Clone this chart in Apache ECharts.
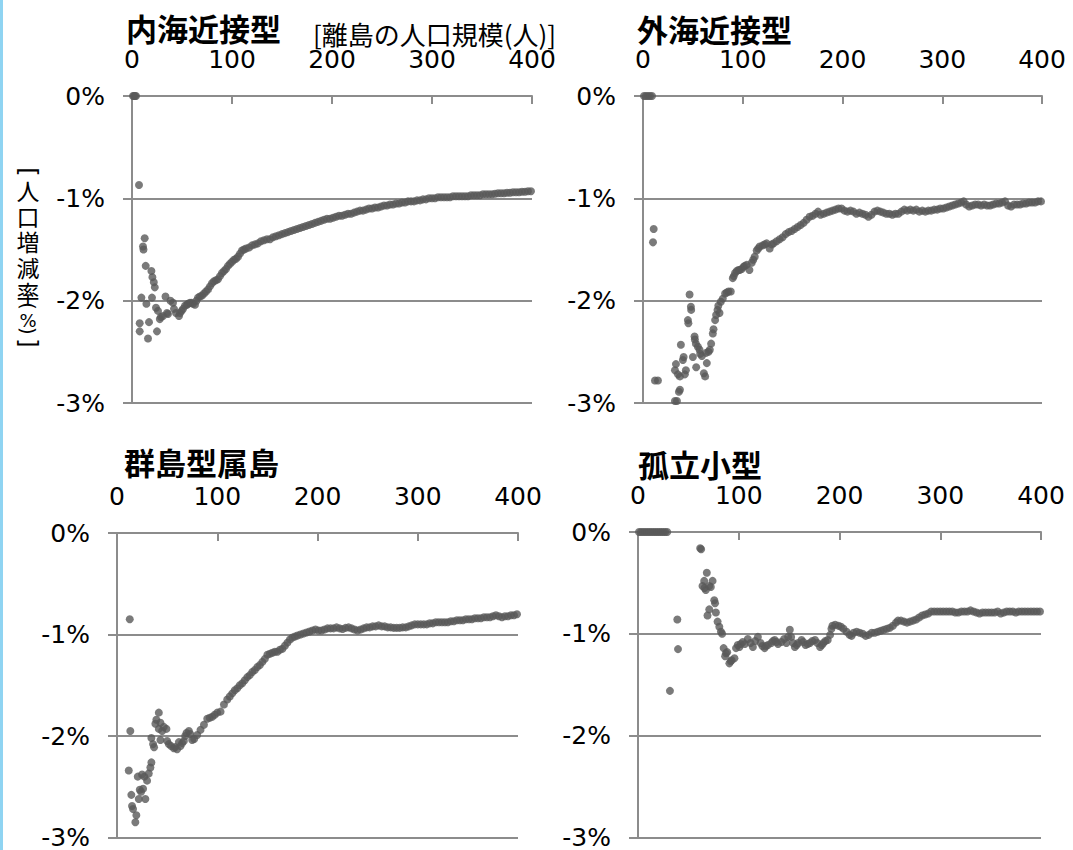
<!DOCTYPE html>
<html><head><meta charset="utf-8">
<script src="https://cdn.jsdelivr.net/npm/echarts@6/dist/echarts.min.js"></script>
<style>html,body{margin:0;padding:0;background:#fff}#c{width:1073px;height:850px}</style>
</head><body><div id="c"></div>
<script>
// Titles and axis text
const panelTitles = ['内海近接型', '外海近接型', '群島型属島', '孤立小型'];
const xAxisName = '[離島の人口規模(人)]';
const yNameChars = ['人', '口', '増', '減', '率'];
const xTicks = [0, 100, 200, 300, 400];
const yTicks = [0, -1, -2, -3];

// 内海近接型 : population (x) and growth rate % (y)
const naikaiX = [1,2,3,4,7,11,11.5,12.7,13.7,19.4,20.4,21.8,22.8,9.4,14.4,20,7.7,7.7,17,16,25,24,26,27.8,29,31,33.5,35,36,38.5,41,42,44,47,48,
49.6,51,53,55,56,58,59.6,61,63,64.5,66,68,70,72,74,76,78,80,82,84,86,88,90,92,94,96,98,100,102,104,106,108,110,112,114,117,120,123,126,129,132,135,138,141,144,147,150,153,156,159,162,165,168,171,174,177,180,183,186,189,192,195,198,201,204,207,210,213,216,219,222,225,228,231,234,237,240,243,246,249,252,255,258,261,264,267,270,273,276,279,282,285,288,291,294,297,300,303,306,309,312,315,318,321,324,327,330,333,336,339,342,345,348,351,354,357,360,363,366,369,372,375,378,381,384,387,390,393,396,399];
const naikaiY = [0,0,0,0,-0.87,-1.47,-1.50,-1.39,-1.66,-1.71,-1.77,-1.82,-1.87,-1.97,-2.03,-1.97,-2.22,-2.30,-2.21,-2.37,-2.30,-2.07,-2.10,-2.18,-2.16,-2.15,-1.96,-2.12,-2.13,-2.00,-2.02,-2.08,-2.12,-2.15,-2.12,
-2.10,-2.08,-2.05,-2.04,-2.03,-2.02,-2.02,-2.03,-2.04,-2.00,-1.97,-1.96,-1.95,-1.93,-1.91,-1.89,-1.86,-1.83,-1.81,-1.80,-1.79,-1.76,-1.73,-1.71,-1.69,-1.66,-1.64,-1.62,-1.60,-1.59,-1.57,-1.54,-1.51,-1.50,-1.49,-1.48,-1.46,-1.45,-1.44,-1.42,-1.41,-1.40,-1.40,-1.38,-1.37,-1.36,-1.35,-1.34,-1.33,-1.32,-1.31,-1.30,-1.29,-1.28,-1.27,-1.26,-1.25,-1.24,-1.23,-1.22,-1.21,-1.20,-1.20,-1.19,-1.18,-1.17,-1.17,-1.16,-1.15,-1.15,-1.14,-1.13,-1.12,-1.12,-1.11,-1.10,-1.10,-1.09,-1.09,-1.08,-1.07,-1.07,-1.06,-1.06,-1.05,-1.05,-1.04,-1.04,-1.03,-1.03,-1.03,-1.02,-1.02,-1.01,-1.01,-1.00,-1.00,-1.00,-0.99,-0.99,-0.99,-0.99,-0.99,-0.98,-0.98,-0.98,-0.98,-0.98,-0.98,-0.97,-0.97,-0.97,-0.97,-0.96,-0.96,-0.96,-0.96,-0.955,-0.95,-0.95,-0.95,-0.945,-0.945,-0.94,-0.94,-0.94,-0.935,-0.935,-0.93,-0.93];

// 外海近接型
const gaikaiX = [1,3,5,7,9,10.7,10,12,15,32,34,36,37,32,33,35,37,38,40,40.7,42,43,45,45.5,46.7,48,48.3,
50,51.7,52,53,53.3,55,56.7,57.3,59,61,62.3,64,63.3,65.7,67,68.3,70,70.7,72.3,73.3,74.7,75.5,76.7,78,80,82.3,84,85.7,88,90,91,92.3,94,95.7,97,99,100.7,102,104,106.7,109,110.5,112,114,115.5,117,120,122,124,127,129,131,134,137,140,143,146,149,152,155,158,161,164,167,170,173,175.5,178,181,184,187,190,193,196,199,202,205,208,211,214,217,220,223,226,229,232,235,238,241,244,247,250,253,256,259,262,265,268,271,274,277,280,283,286,289,292,295,298,301,304,307,310,313,316,319,321.5,324,327,330,333,336,339,342,345,348,351,354,357,360,363,366,369,372,375,378,381,384,387,390,393,396,399];
const gaikaiY = [0,0,0,0,0,-1.30,-1.43,-2.78,-2.78,-2.98,-2.98,-2.89,-2.87,-2.68,-2.62,-2.72,-2.74,-2.43,-2.58,-2.55,-2.72,-2.68,-2.19,-2.22,-1.94,-2.06,-2.09,
-2.55,-2.35,-2.38,-2.42,-2.65,-2.45,-2.48,-2.52,-2.54,-2.71,-2.74,-2.61,-2.51,-2.50,-2.48,-2.42,-2.32,-2.28,-2.19,-2.14,-2.09,-2.05,-2.12,-2.01,-1.98,-1.93,-1.92,-1.91,-1.91,-1.78,-1.76,-1.73,-1.71,-1.70,-1.70,-1.69,-1.67,-1.66,-1.65,-1.70,-1.63,-1.60,-1.57,-1.51,-1.49,-1.47,-1.46,-1.45,-1.44,-1.49,-1.45,-1.44,-1.42,-1.40,-1.38,-1.35,-1.33,-1.32,-1.30,-1.28,-1.26,-1.24,-1.21,-1.18,-1.17,-1.15,-1.13,-1.16,-1.15,-1.14,-1.13,-1.12,-1.11,-1.10,-1.10,-1.12,-1.13,-1.12,-1.13,-1.15,-1.14,-1.15,-1.16,-1.18,-1.16,-1.13,-1.12,-1.13,-1.14,-1.15,-1.15,-1.16,-1.15,-1.15,-1.13,-1.11,-1.12,-1.11,-1.12,-1.11,-1.13,-1.12,-1.13,-1.12,-1.12,-1.11,-1.11,-1.10,-1.10,-1.09,-1.08,-1.07,-1.06,-1.05,-1.04,-1.03,-1.06,-1.08,-1.07,-1.06,-1.06,-1.07,-1.06,-1.07,-1.07,-1.06,-1.05,-1.05,-1.04,-1.03,-1.07,-1.08,-1.06,-1.06,-1.06,-1.05,-1.05,-1.04,-1.04,-1.04,-1.03,-1.03];

// 群島型属島
const guntoX = [12.7,13.3,11.7,14.3,15,16,19.3,18.3,20.7,22.7,21.7,25,26,24,28.3,27.3,30,31.7,33.3,34.3,34.3,36,37,38.3,39.3,41.7,43.3,41.7,45,46.7,49.3,43.3,
50,51.7,54,56.7,58,60,61.7,63.3,65,66.7,68,69.3,71.7,73,75,77,80,83.3,86.7,90,92.5,95,97.5,100,103.3,106.7,110,112.5,115,117.5,120,122.5,125,127.5,130,132.5,135,137.5,140,142.5,145,147.5,150,152.5,155,157.5,160,162.5,165,167.5,170,172.5,175,177.5,180,183,186,189,192,195,198,201,204,207,210,213,216,219,222,225,228,231,234,237,240,243,246,249,252,255,258,261,264,267,270,273,276,279,282,285,288,291,294,297,300,303,306,309,312,315,318,321,324,327,330,333,336,339,342,345,348,351,354,357,360,363,366,369,372,375,378,381,384,387,390,393,396,399];
const guntoY = [-0.85,-1.95,-2.34,-2.58,-2.69,-2.72,-2.78,-2.85,-2.40,-2.53,-2.62,-2.38,-2.52,-2.55,-2.62,-2.40,-2.44,-2.37,-2.31,-2.26,-2.02,-2.08,-2.11,-1.88,-1.84,-1.77,-1.87,-1.93,-1.95,-1.91,-1.93,-2.04,
-2.05,-2.08,-2.10,-2.12,-2.11,-2.13,-2.06,-2.10,-2.07,-2.05,-2.00,-1.97,-1.95,-1.98,-2.04,-2.03,-1.99,-1.94,-1.89,-1.83,-1.82,-1.81,-1.79,-1.77,-1.76,-1.69,-1.64,-1.61,-1.58,-1.55,-1.53,-1.50,-1.48,-1.45,-1.42,-1.40,-1.37,-1.35,-1.32,-1.30,-1.27,-1.24,-1.20,-1.19,-1.18,-1.17,-1.17,-1.15,-1.14,-1.11,-1.08,-1.05,-1.03,-1.02,-1.01,-1.00,-0.99,-0.98,-0.97,-0.96,-0.95,-0.96,-0.96,-0.95,-0.94,-0.94,-0.94,-0.93,-0.94,-0.945,-0.935,-0.93,-0.94,-0.95,-0.96,-0.95,-0.94,-0.93,-0.93,-0.92,-0.92,-0.91,-0.92,-0.92,-0.93,-0.93,-0.935,-0.935,-0.935,-0.93,-0.93,-0.92,-0.91,-0.90,-0.90,-0.90,-0.90,-0.90,-0.89,-0.89,-0.88,-0.88,-0.88,-0.88,-0.88,-0.87,-0.87,-0.86,-0.86,-0.86,-0.85,-0.85,-0.85,-0.84,-0.84,-0.84,-0.83,-0.83,-0.83,-0.82,-0.81,-0.82,-0.83,-0.82,-0.82,-0.81,-0.81,-0.80];

// 孤立小型
const koritsuX = [1,3,5,7,9,11,13,15,17,19,21,23,25,27,29,31.7,39,39.7,
61.7,62.7,68.3,65.7,64,67.3,66,70.7,74,72.3,75.7,76.5,70.7,69,77.3,79,80.7,82.3,83.5,85,87.3,86.5,88.5,90.7,92,93,95.7,97.3,99,100.7,102,104,106,109,111.7,114,116.3,119,121.7,123.5,125.7,127,129,132.3,134,135.7,137.5,139,142.3,145,147.3,149,150.7,152,154,155.7,157.5,159,162.3,164,166.3,168.5,170.7,173,175.7,178,180.7,182.5,184,186,188.3,190.7,192,193,195.7,199,201.5,204,207,210,212,214,217,220,223,226,229,232,235,238,241,244,247,250,253,256,258,261,264,267,270,273,276,279,282,285,288,291,294,297,300,303,306,309,312,315,318,321,324,327,330,333,336,339,342,345,348,351,354,357,360,363,366,369,372,375,378,381,384,387,390,393,396,399];
const koritsuY = [0,0,0,0,0,0,0,0,0,0,0,0,0,0,0,-1.56,-0.86,-1.15,
-0.16,-0.17,-0.40,-0.48,-0.53,-0.57,-0.55,-0.53,-0.48,-0.54,-0.67,-0.70,-0.76,-0.82,-0.79,-0.88,-0.93,-0.98,-1.00,-1.14,-1.19,-1.22,-1.18,-1.29,-1.27,-1.26,-1.24,-1.14,-1.11,-1.13,-1.10,-1.08,-1.10,-1.05,-1.09,-1.13,-1.07,-1.03,-1.09,-1.12,-1.14,-1.12,-1.11,-1.09,-1.07,-1.06,-1.08,-1.10,-1.08,-1.05,-1.09,-1.03,-0.96,-1.03,-1.09,-1.13,-1.11,-1.09,-1.06,-1.08,-1.11,-1.10,-1.09,-1.07,-1.06,-1.09,-1.13,-1.11,-1.09,-1.07,-1.06,-1.01,-0.95,-0.92,-0.91,-0.92,-0.93,-0.95,-0.98,-1.01,-1.02,-0.99,-0.98,-0.99,-1.00,-1.02,-1.01,-0.99,-0.99,-0.98,-0.97,-0.96,-0.95,-0.94,-0.92,-0.89,-0.87,-0.87,-0.88,-0.89,-0.88,-0.87,-0.86,-0.84,-0.82,-0.81,-0.80,-0.78,-0.78,-0.78,-0.78,-0.78,-0.78,-0.78,-0.78,-0.79,-0.79,-0.78,-0.78,-0.78,-0.77,-0.78,-0.79,-0.80,-0.79,-0.79,-0.79,-0.79,-0.79,-0.78,-0.80,-0.79,-0.78,-0.78,-0.78,-0.79,-0.78,-0.78,-0.78,-0.78,-0.78,-0.78,-0.78,-0.78];

const seriesX = [naikaiX, gaikaiX, guntoX, koritsuX];
const seriesY = [naikaiY, gaikaiY, guntoY, koritsuY];

const AX = '#8c8c8c';
const DOT = '#595959';
const LATIN = 'DejaVu Sans';
const CJK = 'Noto Sans CJK JP';

const grids = [
  {left: 132, top: 96, width: 400, height: 307},
  {left: 643, top: 96, width: 399, height: 307},
  {left: 117, top: 533, width: 401, height: 306},
  {left: 638, top: 532, width: 403, height: 307}
];

const chart = echarts.init(document.getElementById('c'), null, {renderer: 'svg'});

const xAxes = grids.map((g, i) => ({
  gridIndex: i, type: 'value', position: 'top', min: xTicks[0], max: xTicks[xTicks.length - 1], interval: 100,
  axisLine: {show: true, onZero: false, lineStyle: {color: AX, width: 2}},
  axisTick: {show: true, inside: true, length: 8, lineStyle: {color: AX, width: 2}},
  axisLabel: {show: true, margin: 24, color: '#000', fontFamily: LATIN, fontSize: 25},
  splitLine: {show: false}
}));
const yAxes = grids.map((g, i) => ({
  gridIndex: i, type: 'value', min: yTicks[3], max: yTicks[0], interval: 1,
  axisLine: {show: true, onZero: false, lineStyle: {color: AX, width: 2}},
  axisTick: {show: true, inside: false, length: 9, lineStyle: {color: AX, width: 2}},
  axisLabel: {show: true, margin: 27, color: '#000', fontFamily: LATIN, fontSize: 25, lineHeight: 20,
    formatter: v => (v === 0 ? '0' : String(v)) + '%'},
  splitLine: {show: true, lineStyle: {color: AX, width: 2}}
}));
const series = seriesX.map((xs, i) => ({
  type: 'scatter', xAxisIndex: i, yAxisIndex: i, symbol: 'circle', symbolSize: 8,
  progressive: 0, itemStyle: {color: DOT}, emphasis: {disabled: true}, silent: true,
  data: xs.map((x, k) => [x, seriesY[i][k]])
}));

const titleStyle = {fontFamily: CJK, fontSize: 31, fontWeight: 'bold', fill: '#000', verticalAlign: 'middle'};
const titlePos = [[126, 27], [637, 28], [124, 461], [638, 463]];
const graphic = [
  {type: 'rect', left: 0, top: 0, shape: {x: 0, y: 0, width: 3, height: 850}, style: {fill: '#8fd4f2'}},
  {type: 'text', x: 313, y: 33, style: {text: xAxisName, fontFamily: CJK, fontSize: 26, fill: '#000', verticalAlign: 'middle'}}
];
panelTitles.forEach((t, i) => graphic.push({type: 'text', x: titlePos[i][0], y: titlePos[i][1], style: Object.assign({text: t}, titleStyle)}));
// vertical y-axis name (CJK upright, brackets turned)
const vx = 28;
const small = (txt, y, size, rot, dx) => ({type: 'text', x: vx + (dx || 0), y: y, rotation: rot ? -Math.PI / 2 : 0,
  style: {text: txt, fontFamily: LATIN, fontSize: size, lineHeight: size * 0.6, fill: '#000', align: 'center', verticalAlign: 'middle'}});
graphic.push(small('[', 172, 24, true));
yNameChars.forEach((ch, k) => graphic.push({type: 'text', x: vx, y: 190 + k * 25.5,
  style: {text: ch, fontFamily: CJK, fontSize: 23, lineHeight: 24, fill: '#000', align: 'center', verticalAlign: 'middle'}}));
graphic.push(small('(', 306, 20, true));
graphic.push(small('%', 320, 18, false));
graphic.push(small(')', 331, 20, true));
graphic.push(small(']', 343, 24, true));

chart.setOption({
  animation: false,
  backgroundColor: '#fff',
  grid: grids.map(g => Object.assign({containLabel: false}, g)),
  xAxis: xAxes,
  yAxis: yAxes,
  series: series,
  graphic: graphic
});
</script>
</body></html>
